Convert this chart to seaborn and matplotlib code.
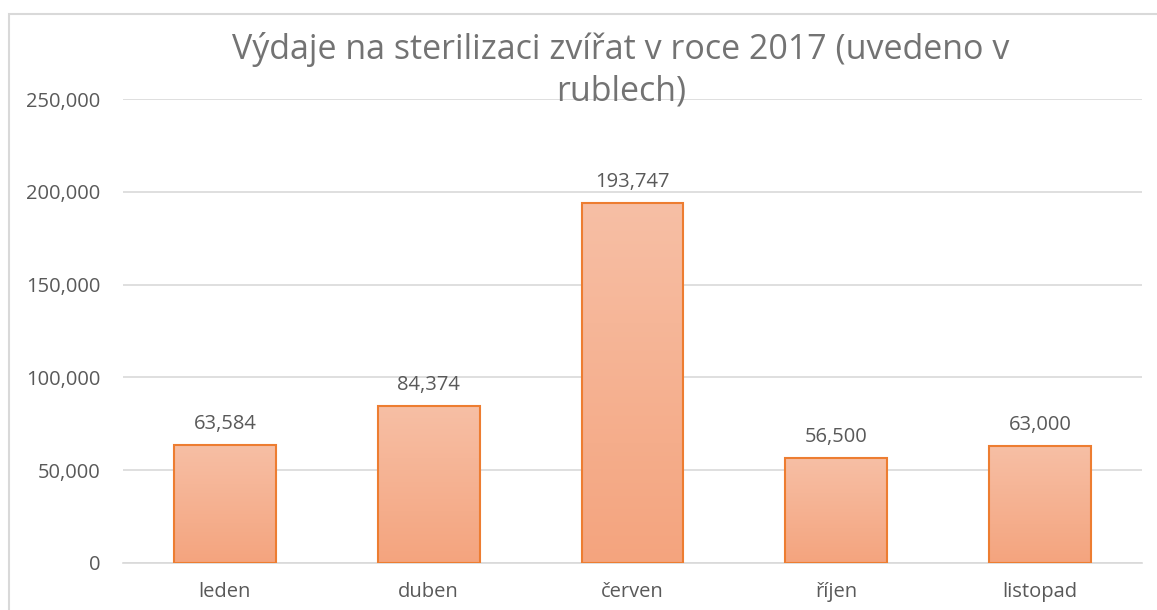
import numpy as np
import pandas as pd
import seaborn as sns
import matplotlib.pyplot as plt
from matplotlib.patches import Rectangle
from matplotlib.colors import LinearSegmentedColormap

# data
months = ['leden', 'duben', 'červen', 'říjen', 'listopad']
costs = [63584, 84374, 193747, 56500, 63000]
yticks = [0, 50000, 100000, 150000, 200000, 250000]
title = 'Výdaje na sterilizaci zvířat v roce 2017 (uvedeno v\nrublech)'

df = pd.DataFrame({'month': months, 'cost': costs})

sns.set_style('white')
plt.rcParams['font.family'] = ['Open Sans', 'DejaVu Sans']
grey = '#595959'

fig = plt.figure(figsize=(11.57, 6.10), dpi=100)
ax = fig.add_axes([123 / 1157, 1 - 563 / 610, (1142 - 123) / 1157, (563 - 99) / 610])

sns.barplot(data=df, x='month', y='cost', color='#F4AE8C', edgecolor='#ED7D31',
            linewidth=1.5, width=0.5, ax=ax, zorder=3)

# gradient fill clipped to each bar
cmap = LinearSegmentedColormap.from_list('grad', ['#F4A47E', '#F7BFA5'])
grad = np.linspace(0, 1, 256).reshape(-1, 1)
for bar in ax.patches:
    x0, w, h = bar.get_x(), bar.get_width(), bar.get_height()
    im = ax.imshow(grad, cmap=cmap, origin='lower', aspect='auto',
                   extent=[x0, x0 + w, 0, h], zorder=3.5)
    im.set_clip_path(bar)
    bar.set_facecolor('none')
    bar.set_zorder(4)

# data labels
for i, v in enumerate(costs):
    ax.text(i, v + 6000, f'{v:,}', ha='center', va='bottom', fontsize=14.5, color=grey)

ax.set_xlim(-0.5, len(months) - 0.5)
ax.set_ylim(0, 250000)
ax.set_yticks(yticks)
ax.set_yticklabels([f'{t:,}' for t in yticks])
ax.yaxis.grid(True, color='#D9D9D9', linewidth=1.2, zorder=0)
ax.set_axisbelow(True)
ax.tick_params(axis='both', labelsize=14.5, colors=grey, length=0)
ax.tick_params(axis='y', pad=16.5)
ax.tick_params(axis='x', pad=14)
ax.set_xlabel('')
ax.set_ylabel('')
for s in ['top', 'right', 'left']:
    ax.spines[s].set_visible(False)
ax.spines['bottom'].set_color('#D9D9D9')
ax.spines['bottom'].set_linewidth(1.2)

fig.text(621 / 1157, 1 - 70 / 610, title, ha='center', va='center',
         fontsize=24.5, color='#737373', linespacing=1.3)

# chart border
fig.patches.append(Rectangle((9 / 1157, -0.1), 1.2, 1 - 14 / 610 + 0.1,
                             transform=fig.transFigure, fill=False,
                             edgecolor='#D9D9D9', linewidth=1.5))

fig.savefig('out.png', dpi=100)
